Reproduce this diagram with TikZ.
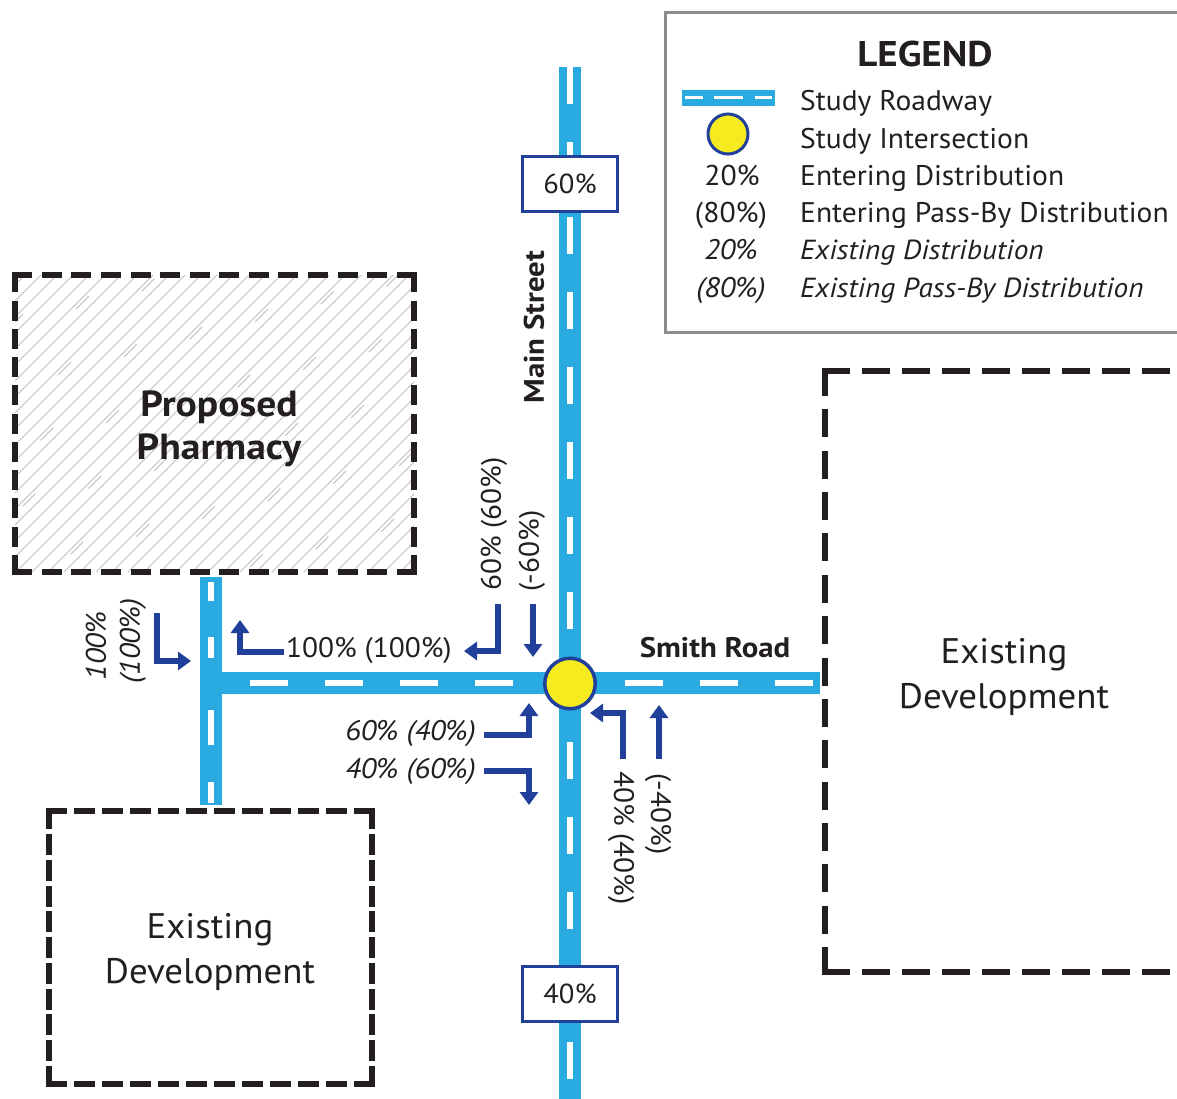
\documentclass[tikz,border=0pt]{standalone}
\usepackage{fontspec}
\setmainfont{PT Sans}[
  UprightFeatures={FakeStretch=1.04},
  ItalicFeatures={FakeStretch=1.06},
  BoldFeatures={FakeStretch=1.09}]
\usetikzlibrary{arrows.meta}

\definecolor{roadblue}{HTML}{29ABE2}
\definecolor{arrowblue}{HTML}{21409A}
\definecolor{dotyellow}{HTML}{F5EB1F}
\definecolor{inkgray}{HTML}{231F20}
\definecolor{framegray}{HTML}{8C8C8C}
\definecolor{hatchgray}{HTML}{BCBCBC}

\newcommand\fsz[1]{\fontsize{#1}{#1}\selectfont}

\begin{document}
\begin{tikzpicture}[x=1pt,y=-1pt,
  road/.style={draw=roadblue,line width=22pt},
  lane/.style={draw=white,line width=5.5pt},
  flow/.style={draw=arrowblue,line width=6.5pt,-{Triangle[width=18pt,length=13pt]}},
  devedge/.style={draw=inkgray,line width=5.5pt,line cap=rect},
  hatch/.style={draw=hatchgray,line width=0.8pt},
  txt/.style={text=inkgray,inner sep=0pt},
  pct/.style={txt,font=\fsz{28.2}},
  ipct/.style={txt,font=\fsz{28.3}\itshape},
  legtxt/.style={txt,font=\fsz{28.4},anchor=base west},
  legital/.style={txt,font=\fsz{27.6}\itshape,anchor=base west},
  legsym/.style={txt,font=\fsz{28.6},anchor=base},
  devtxt/.style={txt,font=\fsz{35.5},anchor=base},
  streettxt/.style={txt,font=\fsz{28.3}\bfseries},
  pctbox/.style={draw=arrowblue,line width=3pt,fill=white,minimum width=95pt,
    minimum height=55pt,inner sep=0pt,text=inkgray,font=\fsz{27.5}},
  studydot/.style={circle,draw=arrowblue,fill=dotyellow,inner sep=0pt}
]
\useasboundingbox (0,0) rectangle (1177,1099);

% ---------------- proposed pharmacy site (hatched) ----------------
\begin{scope}
  \clip (15,275) rectangle (414,572);
  \foreach \i in {-21,...,28} {
    \draw[hatch] (\i*16,572) -- ++(320,-320);
  }
  \foreach \i in {-21,-18,...,28} {
    \draw[hatch,dash pattern=on 18pt off 100pt,dash phase=\i*31pt] (\i*16+5,572) -- ++(320,-320);
  }
\end{scope}
% dashed outline, each side drawn from a corner so the corners stay solid
\draw[devedge,dash pattern=on 14.5pt off 15.08pt] (15,275) -- (414,275);
\draw[devedge,dash pattern=on 14.5pt off 15.08pt] (15,572) -- (414,572);
\draw[devedge,dash pattern=on 14.5pt off 13.75pt] (15,275) -- (15,572);
\draw[devedge,dash pattern=on 14.5pt off 13.75pt] (414,275) -- (414,572);
\node[txt,font=\fsz{36.3}\bfseries,anchor=base] (ph1) at (219,416) {Proposed};
\node[txt,font=\fsz{36.3}\bfseries,anchor=base] (ph2) at (219,459) {Pharmacy};

% ---------------- existing development, lower left ----------------
\draw[devedge,dash pattern=on 15.5pt off 12.45pt] (49,811) -- (372,811);
\draw[devedge,dash pattern=on 15.5pt off 12.45pt] (49,1084) -- (372,1084);
\draw[devedge,dash pattern=on 15.5pt off 10.25pt] (49,811) -- (49,1084);
\draw[devedge,dash pattern=on 15.5pt off 10.25pt] (372,811) -- (372,1084);
\node[devtxt] (ed1a) at (210,938) {Existing};
\node[devtxt] (ed1b) at (210,983) {Development};

% ---------------- existing development, right ----------------
\draw[devedge,line width=6pt,dash pattern=on 22pt off 18pt] (825,371) -- (1190,371);
\draw[devedge,line width=6pt,dash pattern=on 22pt off 18pt] (825,972) -- (1190,972);
\draw[devedge,line width=6pt,dash pattern=on 22pt off 19.36pt] (825,371) -- (825,972);
\node[devtxt] (ed2a) at (1004,663) {Existing};
\node[devtxt] (ed2b) at (1004,708) {Development};

% ---------------- roadways ----------------
\draw[road] (570,67) -- (570,1099);
\draw[road] (200,683) -- (820,683);
\draw[road] (211,577) -- (211,805);
\draw[lane,dash pattern=on 37pt off 38pt] (570,67) -- (570,1099);
\draw[lane,dash pattern=on 38pt off 37pt] (250,683) -- (820,683);
\draw[lane] (211,582) -- (211,601);
\draw[lane] (211,637) -- (211,658);
\draw[lane] (211,710) -- (211,745);
\draw[lane] (211,782) -- (211,803);

\node[pctbox] (north) at (570,184) {60\%};
\node[pctbox] (south) at (570,993.5) {40\%};
\node[studydot,line width=3.5pt,minimum size=50.5pt] (int) at (570,683.5) {};

\node[streettxt,rotate=90] (mainst) at (534,327) {Main Street};
\node[streettxt,anchor=base] (smith) at (715,657) {Smith Road};

% ---------------- driveway movements ----------------
\coordinate (dwInS) at (157,613);  \coordinate (dwInE) at (191,661);
\coordinate (dwOutS) at (284,652); \coordinate (dwOutE) at (240,620);
\draw[flow] (dwInS) |- (dwInE);
\draw[flow] (dwOutS) -| (dwOutE);
\node[ipct,rotate=90] (dwL1) at (96,646) {100\%};
\node[ipct,rotate=90] (dwL2) at (133,641) {(100\%)};
\node[pct,anchor=west] (dwL3) at (286,651) {100\% (100\%)};

% ---------------- intersection movements ----------------
\coordinate (sbRS) at (498,604); \coordinate (sbRE) at (464,651);
\coordinate (sbTS) at (533,604); \coordinate (sbTE) at (533,657);
\draw[flow] (sbRS) |- (sbRE);
\draw[flow] (sbTS) -- (sbTE);
\node[pct,rotate=90] (sbL1) at (494,524) {60\% (60\%)};
\node[pct,rotate=90] (sbL2) at (532,551) {(-60\%)};

\coordinate (wbLS) at (484,735); \coordinate (wbLE) at (529,703);
\coordinate (wbRS) at (484,771); \coordinate (wbRE) at (529,805);
\draw[flow] (wbLS) -| (wbLE);
\draw[flow] (wbRS) -| (wbRE);
\node[ipct,anchor=east] (wbL1) at (476,734) {60\% (40\%)};
\node[ipct,anchor=east] (wbL2) at (476,772) {40\% (60\%)};

\coordinate (nbLS) at (623,759); \coordinate (nbLE) at (590,713);
\coordinate (nbTS) at (659,759); \coordinate (nbTE) at (659,705);
\draw[flow] (nbLS) |- (nbLE);
\draw[flow] (nbTS) -- (nbTE);
\node[pct,rotate=-90] (nbL1) at (621,838) {40\% (40\%)};
\node[pct,rotate=-90] (nbL2) at (658,814) {(-40\%)};

% ---------------- legend ----------------
\fill[white] (665,13) rectangle (1177,332);
\draw[framegray,line width=3pt] (1180,13) -- (665,13) -- (665,332) -- (1180,332);
\node[txt,font=\fsz{35.7}\bfseries,anchor=base] (legtitle) at (925,67) {LEGEND};

\fill[roadblue] (682,90) rectangle (775,106);
\draw[white,line width=3pt] (685,98) -- (703,98) (714,98) -- (743,98) (755,98) -- (772,98);
\node[studydot,line width=3pt,minimum size=40pt] (legdot) at (728,134) {};

\node[legsym] (ls3) at (732,186) {20\%};
\node[legsym] (ls4) at (731,223) {(80\%)};
\node[legsym,font=\fsz{28.3}\itshape] (ls5) at (731,260) {20\%};
\node[legsym,font=\fsz{28.3}\itshape] (ls6) at (731,297) {(80\%)};

\node[legtxt] (lt1) at (800,111) {Study Roadway};
\node[legtxt] (lt2) at (800,148.5) {Study Intersection};
\node[legtxt] (lt3) at (800,186) {Entering Distribution};
\node[legtxt] (lt4) at (800,223) {Entering Pass-By Distribution};
\node[legital] (lt5) at (800,260) {Existing Distribution};
\node[legital] (lt6) at (800,297) {Existing Pass-By Distribution};
\end{tikzpicture}
\end{document}
